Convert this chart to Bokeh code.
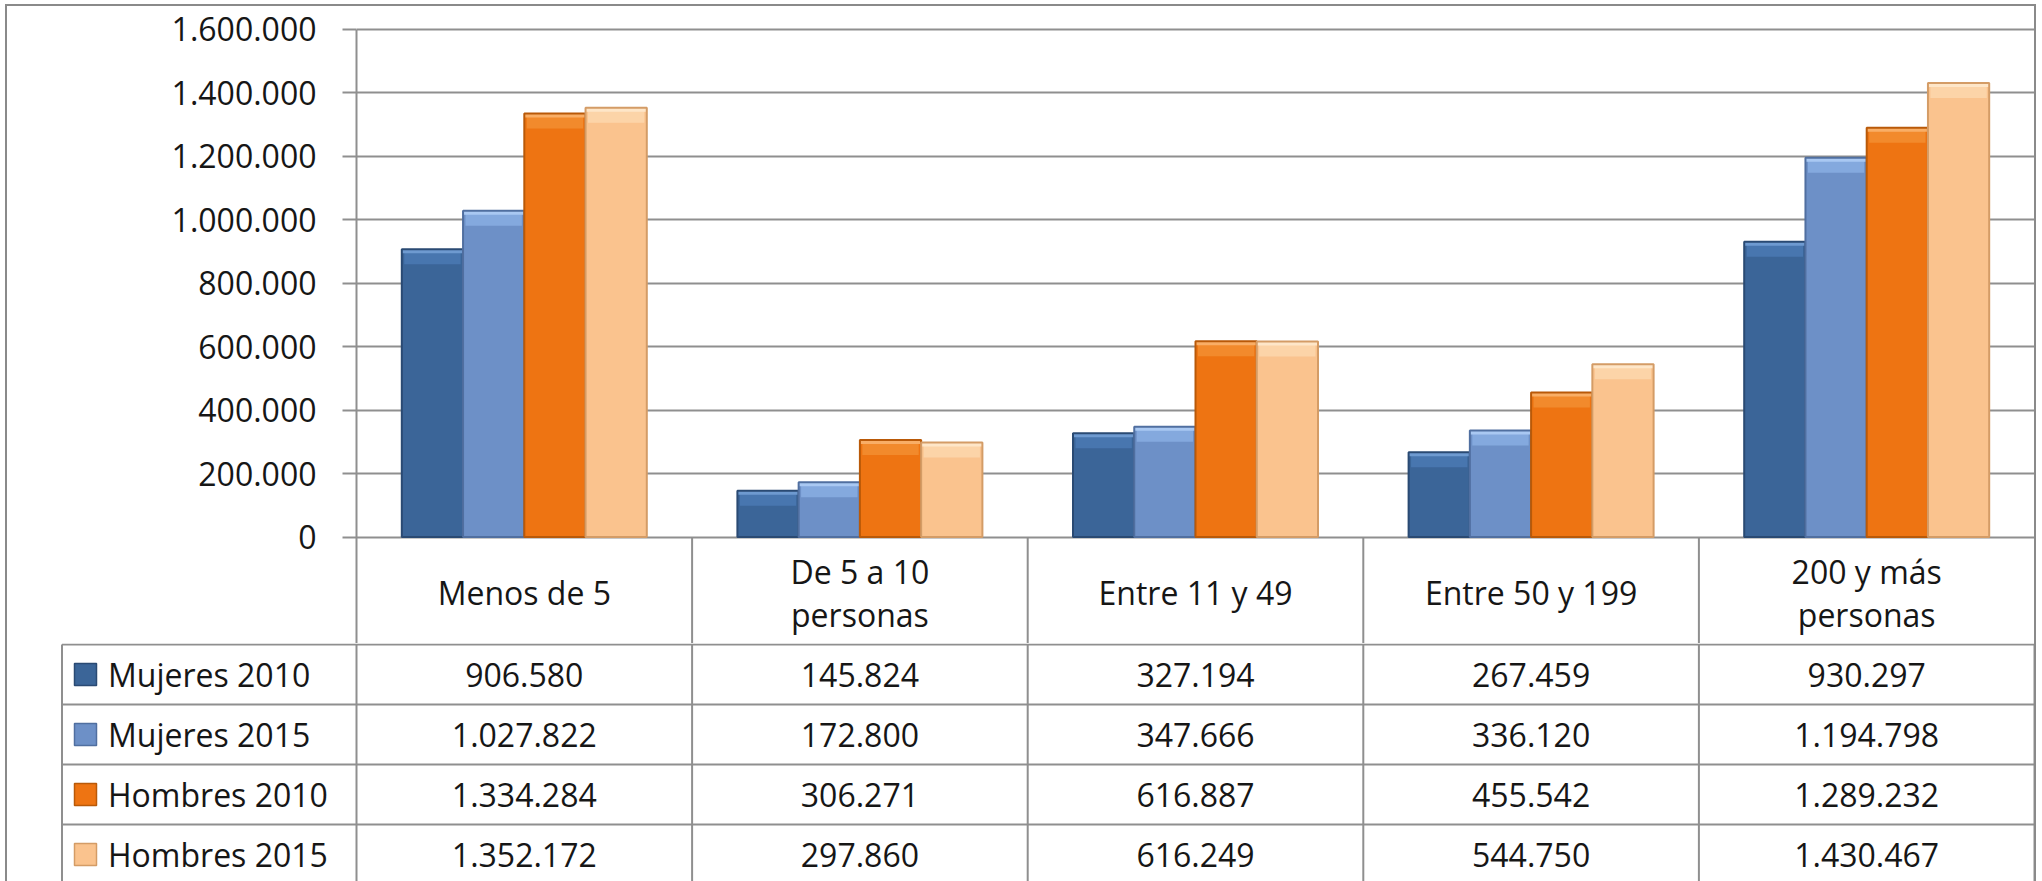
from bokeh.plotting import figure
from bokeh.models import ColumnDataSource, FactorRange, Range1d, FixedTicker
from bokeh.transform import dodge
from bokeh.layouts import column
from bokeh.embed import file_html
from bokeh.resources import INLINE
from bokeh.core.properties import value

# ---------------- data ----------------
categories = ["Menos de 5", "De 5 a 10 personas", "Entre 11 y 49", "Entre 50 y 199", "200 y más personas"]
header_labels = ["Menos de 5", "De 5 a 10\npersonas", "Entre 11 y 49", "Entre 50 y 199", "200 y más\npersonas"]
series_names = ["Mujeres 2010", "Mujeres 2015", "Hombres 2010", "Hombres 2015"]
mujeres_2010 = [906580, 145824, 327194, 267459, 930297]
mujeres_2015 = [1027822, 172800, 347666, 336120, 1194798]
hombres_2010 = [1334284, 306271, 616887, 455542, 1289232]
hombres_2015 = [1352172, 297860, 616249, 544750, 1430467]
y_ticks = [0, 200000, 400000, 600000, 800000, 1000000, 1200000, 1400000, 1600000]
y_tick_labels = ["0", "200.000", "400.000", "600.000", "800.000", "1.000.000",
                 "1.200.000", "1.400.000", "1.600.000"]

series_values = [mujeres_2010, mujeres_2015, hombres_2010, hombres_2015]
fill_colors = ["#3B6598", "#6D90C7", "#EE7412", "#FAC38E"]
edge_colors = ["#2A4A73", "#506FA0", "#B95908", "#D49C66"]
band_colors = ["#4876AF", "#84A9DE", "#F28A2C", "#FCD4A8"]
hi_colors = ["#6E9AD0", "#A9C8F2", "#F9AE66", "#FEE6C8"]

FONT = "Open Sans"
FS_TICK = "32px"
FS = "32px"
TXT = "#161616"
GRID = "#8f8f8f"
BORDER = "#8a8a8a"

# ---------------- layout constants (page pixels) ----------------
ML, MT = 5, 4                 # css margin of the wrapper
BW = 2                        # css border width
X0, Y0 = ML + BW, MT + BW     # content origin on the page
W = 2027
PLOT_L = 356
PLOT_R = X0 + W
CAT_PX = (PLOT_R - PLOT_L) / 5.0
A_BOT = 643
Y_MAX_PX, Y_ZERO_PX = 28.7, 536.6
K = (Y_ZERO_PX - Y_MAX_PX) / 1600000.0   # px per unit
ROW_TOP = 644
ROW_H = 60.0
B_BOT = 881
B_LEFT = 58
LEG_LINE_PX = 61.5

y_start = -(A_BOT - Y_ZERO_PX) / K
y_end = 1600000 + (Y_MAX_PX - Y0) / K

# ---------------- chart figure ----------------
pa = figure(width=W, height=A_BOT - Y0,
            x_range=FactorRange(*categories), y_range=Range1d(y_start, y_end),
            min_border_left=PLOT_L - X0, min_border_right=0,
            min_border_top=0, min_border_bottom=0,
            x_axis_location=None, toolbar_location=None, output_backend="svg",
            outline_line_color=None, background_fill_color="white",
            border_fill_color="white")

pa.xgrid.grid_line_color = None
pa.ygrid.grid_line_color = GRID
pa.ygrid.grid_line_width = 2
pa.yaxis.ticker = FixedTicker(ticks=y_ticks, minor_ticks=[])
pa.yaxis.bounds = (y_start, 1600000)
pa.yaxis.major_label_overrides = {t: l for t, l in zip(y_ticks, y_tick_labels)}
pa.yaxis.major_label_text_font = FONT
pa.yaxis.major_label_text_font_size = FS_TICK
pa.yaxis.major_label_text_color = TXT
pa.yaxis.major_label_standoff = 26
pa.yaxis.axis_line_color = GRID
pa.yaxis.axis_line_width = 2
pa.yaxis.major_tick_line_color = GRID
pa.yaxis.major_tick_line_width = 2
pa.yaxis.major_tick_out = 14
pa.yaxis.major_tick_in = 0
pa.yaxis.minor_tick_line_color = None

src = ColumnDataSource(dict(cat=categories, lab=header_labels,
                            s0=mujeres_2010, s1=mujeres_2015,
                            s2=hombres_2010, s3=hombres_2015))
bar_w = 61.25 / CAT_PX
band = 15.0 / K
hi = 4.0 / K
offsets = [-1.5 * bar_w, -0.5 * bar_w, 0.5 * bar_w, 1.5 * bar_w]
for j in range(4):
    col = "s%d" % j
    src.data["b%d" % j] = [max(v - band, 0) for v in series_values[j]]
    src.data["h%d" % j] = [max(v - hi, 0) for v in series_values[j]]
    xj = dodge("cat", offsets[j], range=pa.x_range)
    # bar body
    pa.vbar(x=xj, top=col, bottom=0, width=bar_w, source=src,
            fill_color=fill_colors[j], line_color=None)
    # bevel band and highlight at the top of each bar
    pa.vbar(x=xj, top=col, bottom="b%d" % j, width=bar_w * 0.92, source=src,
            fill_color=band_colors[j], line_color=None)
    pa.vbar(x=xj, top=col, bottom="h%d" % j, width=bar_w, source=src,
            fill_color=hi_colors[j], line_color=None)
    # darker outline
    pa.vbar(x=xj, top=col, bottom=0, width=bar_w, source=src,
            fill_color=None, line_color=edge_colors[j], line_width=2)

# header row of the data table (inside chart frame, below zero)
sep = ColumnDataSource(dict(cat=categories[:-1]))
pa.segment(x0=dodge("cat", 0.5, range=pa.x_range), y0=y_start,
           x1=dodge("cat", 0.5, range=pa.x_range), y1=0,
           source=sep, line_color=GRID, line_width=2)
pa.text(x="cat", y=-(592 - Y_ZERO_PX) / K, text="lab", source=src,
        text_align="center", text_baseline="middle",
        text_font=value(FONT), text_font_size=FS, text_color=TXT,
        text_line_height=1.0)

# ---------------- table figure ----------------
leg_start = -(PLOT_L - B_LEFT) / CAT_PX
leg_line = -(PLOT_L - LEG_LINE_PX) / CAT_PX
hb = B_BOT - A_BOT
pb = figure(width=W, height=hb,
            x_range=Range1d(leg_start, 5),
            y_range=Range1d((B_BOT - ROW_TOP) / ROW_H, (A_BOT - ROW_TOP) / ROW_H),
            min_border_left=B_LEFT - X0, min_border_right=0,
            min_border_top=0, min_border_bottom=0,
            x_axis_location=None, y_axis_location=None,
            toolbar_location=None, output_backend="svg",
            outline_line_color=None, background_fill_color="white",
            border_fill_color="white")
pb.grid.visible = False

for fig in (pa, pb):
    if "frame_align" in fig.properties():
        fig.frame_align = False

n_rows = len(series_names)
hx0 = [leg_line] * (n_rows + 1)
hx1 = [5] * (n_rows + 1)
hy = list(range(n_rows + 1))
pb.segment(x0=hx0, y0=hy, x1=hx1, y1=hy, line_color=GRID, line_width=2)
vx = [leg_line] + list(range(6))
pb.segment(x0=vx, y0=[0] * len(vx), x1=vx, y1=[n_rows] * len(vx),
           line_color=GRID, line_width=2)

def fmt(v):
    return "{:,}".format(v).replace(",", ".")

tx, ty, tt = [], [], []
for r, vals in enumerate(series_values):
    for i, v in enumerate(vals):
        tx.append(i + 0.5)
        ty.append(r + 0.5)
        tt.append(fmt(v))
pb.text(x=tx, y=ty, text=tt, text_align="center", text_baseline="middle",
        text_font=value(FONT), text_font_size=FS, text_color=TXT)

rows_y = [r + 0.5 for r in range(n_rows)]
pb.text(x=[leg_line] * n_rows, y=rows_y, text=series_names, x_offset=46,
        text_align="left", text_baseline="middle",
        text_font=value(FONT), text_font_size=FS, text_color=TXT)
mk_x = leg_line + 23.5 / CAT_PX
pb.scatter(x=[mk_x] * n_rows, y=rows_y, marker="square", size=22,
           fill_color=fill_colors, line_color=edge_colors, line_width=1.5)

layout = column(pa, pb, spacing=0,
                styles={"margin-left": "%dpx" % ML, "margin-top": "%dpx" % MT,
                        "border-top": "%dpx solid %s" % (BW, BORDER),
                        "border-left": "%dpx solid %s" % (BW, BORDER),
                        "border-right": "%dpx solid %s" % (BW, BORDER)})

open("out.html", "w").write(file_html(layout, INLINE))
